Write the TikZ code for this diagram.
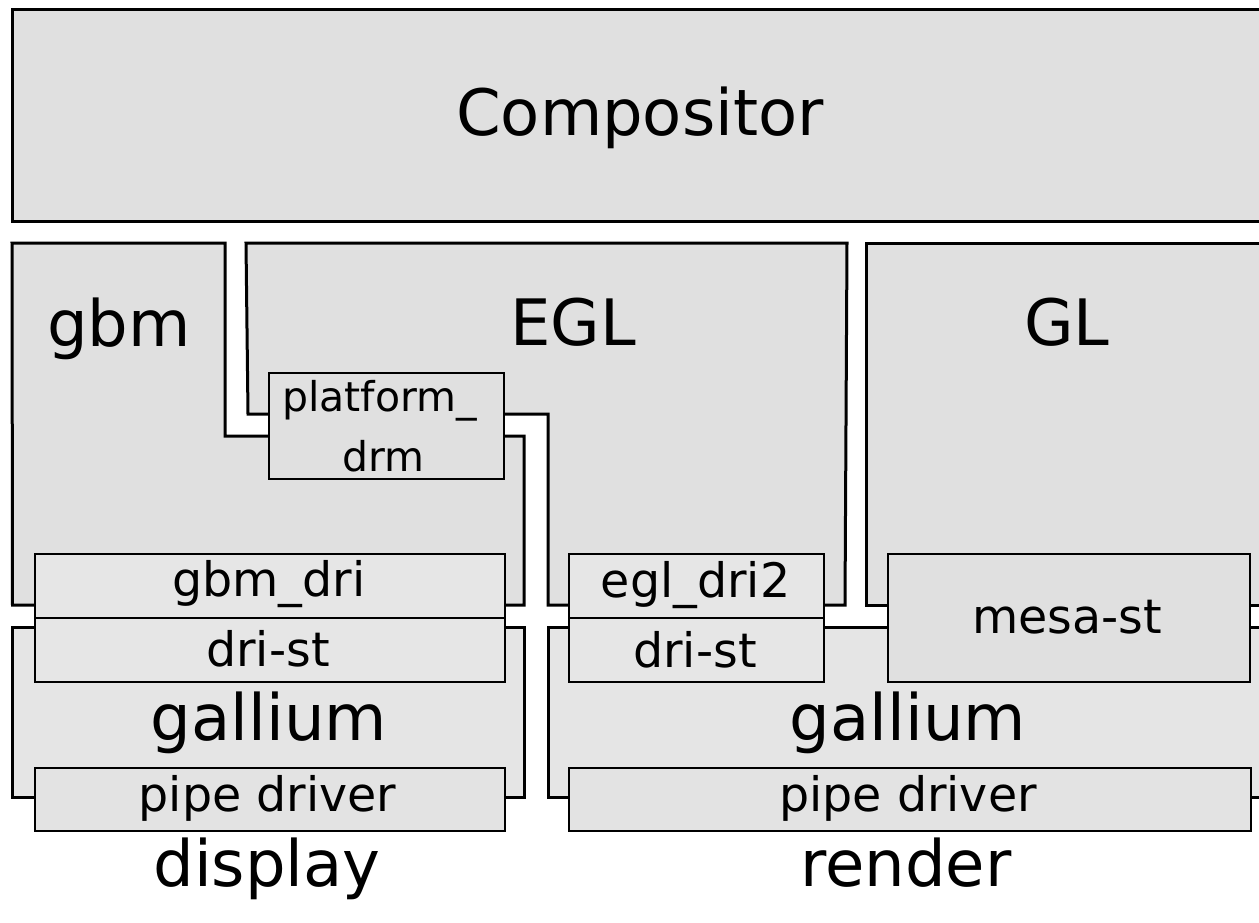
\documentclass[tikz,border=0pt]{standalone}
\usepackage{fontspec}
\setmainfont{DejaVu Sans}
\definecolor{regfill}{HTML}{E0E0E0}
\definecolor{galfill}{HTML}{E5E5E5}
\definecolor{boxfill}{HTML}{E6E6E6}
\definecolor{boxfillb}{HTML}{E0E0E0}
\definecolor{pipefill}{HTML}{E3E3E3}
\begin{document}
\begin{tikzpicture}[x=1pt,y=-1pt,
  region/.style={draw=black, line width=3pt, fill=regfill},
  galreg/.style={region, fill=galfill},
  box/.style={draw=black, line width=2pt, fill=boxfill, rectangle, inner sep=0pt, anchor=north west},
  big/.style={font=\fontsize{64}{64}\selectfont, anchor=base, inner sep=0pt},
  small/.style={font=\fontsize{47.5}{47.5}\selectfont, anchor=base, inner sep=0pt},
  tiny/.style={font=\fontsize{41}{41}\selectfont, anchor=base, inner sep=0pt}]
\path[use as bounding box] (0,0) rectangle (1259,922);
\clip (0,0) rectangle (1259,922);

% layers / regions
\path[region] (12,9) rectangle (1280,221);
\path[region] (12,243) -- (225,243) -- (225,436) -- (524,436) -- (524,605) -- (12.5,605) -- cycle;
\path[region] (246,243) -- (847,243) -- (845,605) -- (548,605) -- (548,414) -- (248,414) -- cycle;
\path[region] (866,243) -- (1280,243) -- (1280,605) -- (866,605) -- cycle;
\path[galreg] (12,627) -- (524,627) -- (524,797) -- (12,797) -- cycle;
\path[galreg] (548,627) -- (1280,627) -- (1280,797) -- (548,797) -- cycle;

% component boxes
\node[box, fill=boxfillb, minimum width=235pt, minimum height=106pt] (platdrm) at (268.3,371.7) {};
\node[box, minimum width=469.5pt, minimum height=64pt] (gbmdri) at (34,552.7) {};
\node[box, minimum width=469.5pt, minimum height=64.3pt] (dristL) at (34,616.7) {};
\node[box, fill=pipefill, minimum width=469.5pt, minimum height=63.3pt] (pipeL) at (34,766.7) {};
\node[box, minimum width=255.6pt, minimum height=64pt] (egldri) at (567.7,552.7) {};
\node[box, minimum width=255.6pt, minimum height=64.3pt] (dristR) at (567.7,616.7) {};
\node[box, fill=boxfillb, minimum width=362.6pt, minimum height=127.7pt] (mesast) at (886.7,553.3) {};
\node[box, fill=pipefill, minimum width=682.3pt, minimum height=63.3pt] (pipeR) at (567.7,766.7) {};

% texts
\node[big] (tComp) at (640,135) {Compositor};
\node[big] (tGbm) at (119,346) {gbm};
\node[big] (tEGL) at (573,345) {EGL};
\node[big] (tGL) at (1067,345) {GL};
\node[tiny] (tPlatA) at (379.7,411.7) {platform\_};
\node[tiny] (tPlatB) at (383.5,471.7) {drm};
\node[small] (tGbmdri) at (268.7,596.7) {gbm\_dri};
\node[small] (tDristL) at (268,666.7) {dri-st};
\node[big] (tGalL) at (269,740) {gallium};
\node[small] (tPipeL) at (267.5,811.7) {pipe driver};
\node[big] (tDisp) at (267,886) {display};
\node[small] (tEgldri) at (695.5,597) {egl\_dri2};
\node[small] (tDristR) at (695,667) {dri-st};
\node[small] (tMesa) at (1067,633) {mesa-st};
\node[big] (tGalR) at (908,740) {gallium};
\node[small] (tPipeR) at (908,811.7) {pipe driver};
\node[big] (tRender) at (906,886) {render};
\end{tikzpicture}
\end{document}
